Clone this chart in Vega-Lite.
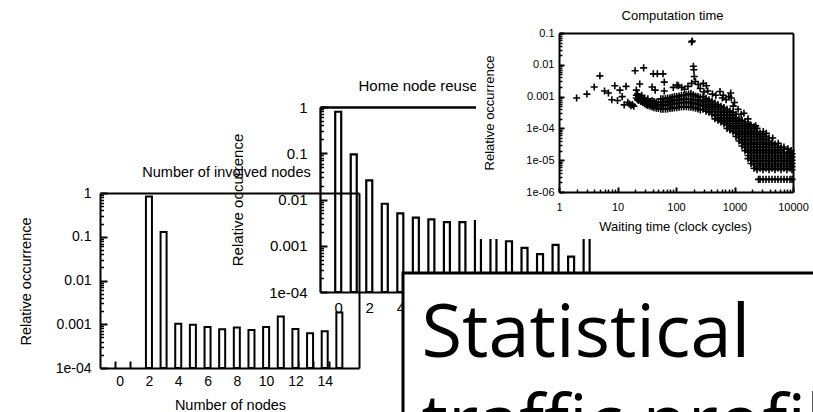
{
  "$schema": "https://vega.github.io/schema/vega-lite/v6.json",
  "width": 813,
  "height": 412,
  "autosize": "none",
  "padding": 0,
  "background": "white",
  "config": {
    "view": {"stroke": null},
    "font": "Liberation Sans",
    "axis": {
      "grid": false,
      "domainColor": "black",
      "domainWidth": 2,
      "tickColor": "black",
      "tickWidth": 2,
      "labelColor": "black",
      "titleColor": "black",
      "labelFont": "Liberation Sans",
      "titleFont": "Liberation Sans",
      "titleFontWeight": "normal",
      "labelFlush": false,
      "labelOverlap": false,
      "titleBaseline": "middle"
    }
  },
  "datasets": {
    "nodes": [
      {"n": 2, "p": 0.83}, {"n": 3, "p": 0.128}, {"n": 4, "p": 0.00103}, {"n": 5, "p": 0.00098},
      {"n": 6, "p": 0.00086}, {"n": 7, "p": 0.00077}, {"n": 8, "p": 0.00084}, {"n": 9, "p": 0.00074},
      {"n": 10, "p": 0.00086}, {"n": 11, "p": 0.0015}, {"n": 12, "p": 0.00078}, {"n": 13, "p": 0.00062},
      {"n": 14, "p": 0.00069}, {"n": 15, "p": 0.00185}
    ],
    "reuse": [
      {"n": 0, "p": 0.79}, {"n": 1, "p": 0.095}, {"n": 2, "p": 0.026}, {"n": 3, "p": 0.0081},
      {"n": 4, "p": 0.005}, {"n": 5, "p": 0.00405}, {"n": 6, "p": 0.0037}, {"n": 7, "p": 0.00325},
      {"n": 8, "p": 0.00325}, {"n": 9, "p": 0.0034}, {"n": 10, "p": 0.0022}, {"n": 11, "p": 0.00125},
      {"n": 12, "p": 0.0009}, {"n": 13, "p": 0.00066}, {"n": 14, "p": 0.00104}, {"n": 15, "p": 0.00058},
      {"n": 16, "p": 0.0016}
    ],
    "compute": [
      {"w": 2, "p": 9e-4}, {"w": 3, "p": 1.2e-3}, {"w": 4, "p": 2e-3}, {"w": 5, "p": 4.5e-3},
      {"w": 6, "p": 1.5e-3}, {"w": 7, "p": 1.3e-3}, {"w": 8, "p": 8e-4}, {"w": 9, "p": 2.2e-3},
      {"w": 10, "p": 7.5e-4}, {"w": 11, "p": 1.6e-3}, {"w": 12, "p": 1e-3}, {"w": 13, "p": 5.5e-4},
      {"w": 14, "p": 2.1e-3}, {"w": 15, "p": 6.6e-4}, {"w": 16, "p": 5.8e-4}, {"w": 17, "p": 5.2e-4},
      {"w": 18, "p": 5.6e-4}, {"w": 19, "p": 5e-4}, {"w": 20, "p": 6.5e-3}, {"w": 21, "p": 1.6e-3},
      {"w": 24, "p": 2.5e-3}, {"w": 28, "p": 8e-3}, {"w": 26, "p": 1.1e-3}, {"w": 29, "p": 8.5e-4},
      {"w": 41, "p": 5.2e-3}, {"w": 48, "p": 5.2e-3}, {"w": 60, "p": 5.2e-3}, {"w": 39, "p": 2e-3},
      {"w": 44, "p": 1.6e-3}, {"w": 63, "p": 2.85e-3}, {"w": 63, "p": 1.5e-3}, {"w": 90, "p": 1.95e-3},
      {"w": 104, "p": 2.3e-3}, {"w": 110, "p": 2.2e-3}, {"w": 125, "p": 1.95e-3}, {"w": 140, "p": 1.7e-3},
      {"w": 160, "p": 2.1e-3}, {"w": 185, "p": 0.052}, {"w": 190, "p": 0.056}, {"w": 198, "p": 9e-3},
      {"w": 202, "p": 7e-3}, {"w": 205, "p": 4.3e-3}, {"w": 185, "p": 2.6e-3}, {"w": 215, "p": 3e-3},
      {"w": 240, "p": 2.4e-3}, {"w": 293, "p": 2.6e-3}, {"w": 330, "p": 2.2e-3}, {"w": 260, "p": 1.8e-3},
      {"w": 300, "p": 1.4e-3}, {"w": 350, "p": 1.5e-3}, {"w": 420, "p": 1.2e-3}, {"w": 480, "p": 1.1e-3},
      {"w": 565, "p": 1.45e-3}, {"w": 620, "p": 9e-4}, {"w": 645, "p": 1.1e-3}, {"w": 720, "p": 8e-4},
      {"w": 800, "p": 1e-3}, {"w": 860, "p": 1.3e-3}, {"w": 880, "p": 9e-4}, {"w": 950, "p": 5e-4},
      {"w": 1000, "p": 6.5e-4}, {"w": 1150, "p": 4e-4}, {"w": 1300, "p": 2.8e-4}, {"w": 1450, "p": 3e-4},
      {"w": 1700, "p": 2e-4}, {"w": 1840, "p": 1.3e-4}, {"w": 2300, "p": 1.2e-4}, {"w": 3100, "p": 8e-5},
      {"w": 3500, "p": 7e-5}, {"w": 4500, "p": 5e-5}, {"w": 5600, "p": 3.4e-5}, {"w": 7000, "p": 2.6e-5},
      {"w": 8200, "p": 2.3e-5}, {"w": 9300, "p": 2e-5}, {"w": 2570, "p": 2.5e-6},

      {"w": 21, "p": 1.1e-3}, {"w": 21, "p": 9e-4},
      {"w": 22, "p": 1.2e-3}, {"w": 22, "p": 8e-4},
      {"w": 23, "p": 1e-3}, {"w": 23, "p": 7.5e-4},
      {"w": 25, "p": 9.5e-4}, {"w": 25, "p": 7e-4},
      {"w": 27, "p": 8.5e-4}, {"w": 27, "p": 6.5e-4},
      {"w": 29, "p": 8e-4}, {"w": 29, "p": 6e-4},
      {"w": 31, "p": 7.5e-4}, {"w": 31, "p": 5.6e-4},
      {"w": 33, "p": 7e-4}, {"w": 33, "p": 5.3e-4}, {"w": 33, "p": 8.5e-4},
      {"w": 36, "p": 6.5e-4}, {"w": 36, "p": 5e-4},
      {"w": 39, "p": 6e-4}, {"w": 39, "p": 4.7e-4}, {"w": 39, "p": 7.5e-4},
      {"w": 42, "p": 5.8e-4}, {"w": 42, "p": 4.5e-4}, {"w": 42, "p": 7e-4},
      {"w": 46, "p": 5.5e-4}, {"w": 46, "p": 4.3e-4}, {"w": 46, "p": 6.8e-4},
      {"w": 50, "p": 5.3e-4}, {"w": 50, "p": 4.2e-4}, {"w": 50, "p": 6.8e-4},
      {"w": 55, "p": 5.2e-4}, {"w": 55, "p": 4e-4}, {"w": 55, "p": 6.6e-4}, {"w": 55, "p": 8.5e-4},
      {"w": 60, "p": 5.3e-4}, {"w": 60, "p": 4e-4}, {"w": 60, "p": 6.6e-4}, {"w": 60, "p": 8.5e-4},
      {"w": 66, "p": 5.4e-4}, {"w": 66, "p": 4e-4}, {"w": 66, "p": 6.8e-4}, {"w": 66, "p": 8.7e-4},
      {"w": 72, "p": 5.5e-4}, {"w": 72, "p": 4.1e-4}, {"w": 72, "p": 7e-4}, {"w": 72, "p": 9e-4},
      {"w": 79, "p": 5.7e-4}, {"w": 79, "p": 4.2e-4}, {"w": 79, "p": 7.2e-4}, {"w": 79, "p": 9.2e-4},
      {"w": 86, "p": 5.9e-4}, {"w": 86, "p": 4.3e-4}, {"w": 86, "p": 7.5e-4}, {"w": 86, "p": 9.5e-4},
      {"w": 94, "p": 6e-4}, {"w": 94, "p": 4.4e-4}, {"w": 94, "p": 7.7e-4}, {"w": 94, "p": 1e-3},
      {"w": 103, "p": 6.2e-4}, {"w": 103, "p": 4.5e-4}, {"w": 103, "p": 8e-4}, {"w": 103, "p": 1e-3},
      {"w": 113, "p": 6.3e-4}, {"w": 113, "p": 4.6e-4}, {"w": 113, "p": 8e-4}, {"w": 113, "p": 1.05e-3},
      {"w": 124, "p": 6.4e-4}, {"w": 124, "p": 4.7e-4}, {"w": 124, "p": 8.2e-4}, {"w": 124, "p": 1.1e-3},
      {"w": 136, "p": 6.5e-4}, {"w": 136, "p": 4.8e-4}, {"w": 136, "p": 8.3e-4}, {"w": 136, "p": 1.1e-3},
      {"w": 150, "p": 6.6e-4}, {"w": 150, "p": 4.8e-4}, {"w": 150, "p": 8.5e-4}, {"w": 150, "p": 1.15e-3},
      {"w": 164, "p": 6.5e-4}, {"w": 164, "p": 4.7e-4}, {"w": 164, "p": 8.5e-4}, {"w": 164, "p": 1.2e-3},
      {"w": 180, "p": 6.4e-4}, {"w": 180, "p": 4.6e-4}, {"w": 180, "p": 8.3e-4}, {"w": 180, "p": 1.25e-3},
      {"w": 197, "p": 6.2e-4}, {"w": 197, "p": 4.5e-4}, {"w": 197, "p": 8e-4}, {"w": 197, "p": 1.15e-3},
      {"w": 216, "p": 6e-4}, {"w": 216, "p": 4.3e-4}, {"w": 216, "p": 7.8e-4}, {"w": 216, "p": 1.05e-3},
      {"w": 237, "p": 5.7e-4}, {"w": 237, "p": 4.1e-4}, {"w": 237, "p": 7.5e-4}, {"w": 237, "p": 1e-3},
      {"w": 260, "p": 5.4e-4}, {"w": 260, "p": 3.8e-4}, {"w": 260, "p": 7.2e-4}, {"w": 260, "p": 9.5e-4},

      {"w": 290, "p": 1e-3}, {"w": 290, "p": 7.9e-4}, {"w": 290, "p": 6.3e-4}, {"w": 290, "p": 5e-4}, {"w": 290, "p": 4e-4},
      {"w": 326, "p": 8.9e-4}, {"w": 326, "p": 7.1e-4}, {"w": 326, "p": 5.6e-4}, {"w": 326, "p": 4.5e-4}, {"w": 326, "p": 3.5e-4},
      {"w": 366, "p": 7.9e-4}, {"w": 366, "p": 6.3e-4}, {"w": 366, "p": 5e-4}, {"w": 366, "p": 4e-4}, {"w": 366, "p": 3.2e-4},
      {"w": 412, "p": 7.1e-4}, {"w": 412, "p": 5.6e-4}, {"w": 412, "p": 4.5e-4}, {"w": 412, "p": 3.5e-4}, {"w": 412, "p": 2.8e-4},
      {"w": 464, "p": 6.3e-4}, {"w": 464, "p": 5e-4}, {"w": 464, "p": 4e-4}, {"w": 464, "p": 3.2e-4}, {"w": 464, "p": 2.5e-4}, {"w": 464, "p": 2e-4},
      {"w": 522, "p": 5.6e-4}, {"w": 522, "p": 4.5e-4}, {"w": 522, "p": 3.5e-4}, {"w": 522, "p": 2.8e-4}, {"w": 522, "p": 2.2e-4}, {"w": 522, "p": 1.8e-4},
      {"w": 588, "p": 5e-4}, {"w": 588, "p": 4e-4}, {"w": 588, "p": 3.2e-4}, {"w": 588, "p": 2.5e-4}, {"w": 588, "p": 2e-4}, {"w": 588, "p": 1.6e-4},
      {"w": 662, "p": 4.5e-4}, {"w": 662, "p": 3.5e-4}, {"w": 662, "p": 2.8e-4}, {"w": 662, "p": 2.2e-4}, {"w": 662, "p": 1.8e-4}, {"w": 662, "p": 1.4e-4},
      {"w": 745, "p": 4e-4}, {"w": 745, "p": 3.2e-4}, {"w": 745, "p": 2.5e-4}, {"w": 745, "p": 2e-4}, {"w": 745, "p": 1.6e-4}, {"w": 745, "p": 1.26e-4}, {"w": 745, "p": 1e-4},
      {"w": 838, "p": 3.5e-4}, {"w": 838, "p": 2.8e-4}, {"w": 838, "p": 2.2e-4}, {"w": 838, "p": 1.8e-4}, {"w": 838, "p": 1.4e-4}, {"w": 838, "p": 1.12e-4}, {"w": 838, "p": 8.9e-5},
      {"w": 943, "p": 3.2e-4}, {"w": 943, "p": 2.5e-4}, {"w": 943, "p": 2e-4}, {"w": 943, "p": 1.6e-4}, {"w": 943, "p": 1.26e-4}, {"w": 943, "p": 1e-4}, {"w": 943, "p": 7.9e-5},
      {"w": 1061, "p": 2.8e-4}, {"w": 1061, "p": 2.2e-4}, {"w": 1061, "p": 1.8e-4}, {"w": 1061, "p": 1.4e-4}, {"w": 1061, "p": 1.12e-4}, {"w": 1061, "p": 8.9e-5}, {"w": 1061, "p": 7.1e-5}, {"w": 1061, "p": 5.6e-5},
      {"w": 1194, "p": 2e-4}, {"w": 1194, "p": 1.6e-4}, {"w": 1194, "p": 1.26e-4}, {"w": 1194, "p": 1e-4}, {"w": 1194, "p": 7.9e-5}, {"w": 1194, "p": 6.3e-5}, {"w": 1194, "p": 5e-5}, {"w": 1194, "p": 4e-5},
      {"w": 1344, "p": 1.8e-4}, {"w": 1344, "p": 1.4e-4}, {"w": 1344, "p": 1.12e-4}, {"w": 1344, "p": 8.9e-5}, {"w": 1344, "p": 7.1e-5}, {"w": 1344, "p": 5.6e-5}, {"w": 1344, "p": 4.5e-5}, {"w": 1344, "p": 3.5e-5}, {"w": 1344, "p": 2.8e-5},
      {"w": 1512, "p": 1.6e-4}, {"w": 1512, "p": 1.26e-4}, {"w": 1512, "p": 1e-4}, {"w": 1512, "p": 7.9e-5}, {"w": 1512, "p": 6.3e-5}, {"w": 1512, "p": 5e-5}, {"w": 1512, "p": 4e-5}, {"w": 1512, "p": 3.2e-5}, {"w": 1512, "p": 2.5e-5}, {"w": 1512, "p": 2e-5},
      {"w": 1702, "p": 1.4e-4}, {"w": 1702, "p": 1.12e-4}, {"w": 1702, "p": 8.9e-5}, {"w": 1702, "p": 7.1e-5}, {"w": 1702, "p": 5.6e-5}, {"w": 1702, "p": 4.5e-5}, {"w": 1702, "p": 3.5e-5}, {"w": 1702, "p": 2.8e-5}, {"w": 1702, "p": 2.2e-5}, {"w": 1702, "p": 1.8e-5}, {"w": 1702, "p": 1.4e-5}, {"w": 1702, "p": 1.12e-5},
      {"w": 1915, "p": 1.26e-4}, {"w": 1915, "p": 1e-4}, {"w": 1915, "p": 7.9e-5}, {"w": 1915, "p": 6.3e-5}, {"w": 1915, "p": 5e-5}, {"w": 1915, "p": 4e-5}, {"w": 1915, "p": 3.2e-5}, {"w": 1915, "p": 2.5e-5}, {"w": 1915, "p": 2e-5}, {"w": 1915, "p": 1.6e-5}, {"w": 1915, "p": 1.26e-5}, {"w": 1915, "p": 1e-5}, {"w": 1915, "p": 7.9e-6},
      {"w": 2155, "p": 1.12e-4}, {"w": 2155, "p": 8.9e-5}, {"w": 2155, "p": 7.1e-5}, {"w": 2155, "p": 5.6e-5}, {"w": 2155, "p": 4.5e-5}, {"w": 2155, "p": 3.5e-5}, {"w": 2155, "p": 2.8e-5}, {"w": 2155, "p": 2.2e-5}, {"w": 2155, "p": 1.8e-5}, {"w": 2155, "p": 1.4e-5}, {"w": 2155, "p": 1.12e-5}, {"w": 2155, "p": 8.9e-6}, {"w": 2155, "p": 7.1e-6}, {"w": 2155, "p": 5.6e-6},
      {"w": 2426, "p": 1e-4}, {"w": 2426, "p": 7.9e-5}, {"w": 2426, "p": 6.3e-5}, {"w": 2426, "p": 5e-5}, {"w": 2426, "p": 4e-5}, {"w": 2426, "p": 3.2e-5}, {"w": 2426, "p": 2.5e-5}, {"w": 2426, "p": 2e-5}, {"w": 2426, "p": 1.6e-5}, {"w": 2426, "p": 1.26e-5}, {"w": 2426, "p": 1e-5}, {"w": 2426, "p": 7.9e-6}, {"w": 2426, "p": 6.3e-6}, {"w": 2426, "p": 5e-6},
      {"w": 2730, "p": 7.1e-5}, {"w": 2730, "p": 5.6e-5}, {"w": 2730, "p": 4.5e-5}, {"w": 2730, "p": 3.5e-5}, {"w": 2730, "p": 2.8e-5}, {"w": 2730, "p": 2.2e-5}, {"w": 2730, "p": 1.8e-5}, {"w": 2730, "p": 1.4e-5}, {"w": 2730, "p": 1.12e-5}, {"w": 2730, "p": 8.9e-6}, {"w": 2730, "p": 7.1e-6}, {"w": 2730, "p": 5.6e-6}, {"w": 2730, "p": 2.5e-6},
      {"w": 3072, "p": 6.3e-5}, {"w": 3072, "p": 5e-5}, {"w": 3072, "p": 4e-5}, {"w": 3072, "p": 3.2e-5}, {"w": 3072, "p": 2.5e-5}, {"w": 3072, "p": 2e-5}, {"w": 3072, "p": 1.6e-5}, {"w": 3072, "p": 1.26e-5}, {"w": 3072, "p": 1e-5}, {"w": 3072, "p": 7.9e-6}, {"w": 3072, "p": 6.3e-6}, {"w": 3072, "p": 5e-6}, {"w": 3072, "p": 2.5e-6},
      {"w": 3457, "p": 5.6e-5}, {"w": 3457, "p": 4.5e-5}, {"w": 3457, "p": 3.5e-5}, {"w": 3457, "p": 2.8e-5}, {"w": 3457, "p": 2.2e-5}, {"w": 3457, "p": 1.8e-5}, {"w": 3457, "p": 1.4e-5}, {"w": 3457, "p": 1.12e-5}, {"w": 3457, "p": 8.9e-6}, {"w": 3457, "p": 7.1e-6}, {"w": 3457, "p": 5.6e-6}, {"w": 3457, "p": 2.5e-6},
      {"w": 3890, "p": 5e-5}, {"w": 3890, "p": 4e-5}, {"w": 3890, "p": 3.2e-5}, {"w": 3890, "p": 2.5e-5}, {"w": 3890, "p": 2e-5}, {"w": 3890, "p": 1.6e-5}, {"w": 3890, "p": 1.26e-5}, {"w": 3890, "p": 1e-5}, {"w": 3890, "p": 7.9e-6}, {"w": 3890, "p": 6.3e-6}, {"w": 3890, "p": 5e-6}, {"w": 3890, "p": 2.5e-6},
      {"w": 4378, "p": 3.5e-5}, {"w": 4378, "p": 2.8e-5}, {"w": 4378, "p": 2.2e-5}, {"w": 4378, "p": 1.8e-5}, {"w": 4378, "p": 1.4e-5}, {"w": 4378, "p": 1.12e-5}, {"w": 4378, "p": 8.9e-6}, {"w": 4378, "p": 7.1e-6}, {"w": 4378, "p": 5.6e-6}, {"w": 4378, "p": 2.5e-6},
      {"w": 4926, "p": 3.2e-5}, {"w": 4926, "p": 2.5e-5}, {"w": 4926, "p": 2e-5}, {"w": 4926, "p": 1.6e-5}, {"w": 4926, "p": 1.26e-5}, {"w": 4926, "p": 1e-5}, {"w": 4926, "p": 7.9e-6}, {"w": 4926, "p": 6.3e-6}, {"w": 4926, "p": 5e-6}, {"w": 4926, "p": 2.5e-6},
      {"w": 5544, "p": 2.8e-5}, {"w": 5544, "p": 2.2e-5}, {"w": 5544, "p": 1.8e-5}, {"w": 5544, "p": 1.4e-5}, {"w": 5544, "p": 1.12e-5}, {"w": 5544, "p": 8.9e-6}, {"w": 5544, "p": 7.1e-6}, {"w": 5544, "p": 5.6e-6}, {"w": 5544, "p": 2.5e-6},
      {"w": 6238, "p": 2.5e-5}, {"w": 6238, "p": 2e-5}, {"w": 6238, "p": 1.6e-5}, {"w": 6238, "p": 1.26e-5}, {"w": 6238, "p": 1e-5}, {"w": 6238, "p": 7.9e-6}, {"w": 6238, "p": 6.3e-6}, {"w": 6238, "p": 5e-6}, {"w": 6238, "p": 2.5e-6},
      {"w": 7020, "p": 2.2e-5}, {"w": 7020, "p": 1.8e-5}, {"w": 7020, "p": 1.4e-5}, {"w": 7020, "p": 1.12e-5}, {"w": 7020, "p": 8.9e-6}, {"w": 7020, "p": 7.1e-6}, {"w": 7020, "p": 5.6e-6}, {"w": 7020, "p": 2.5e-6},
      {"w": 7900, "p": 1.6e-5}, {"w": 7900, "p": 1.26e-5}, {"w": 7900, "p": 1e-5}, {"w": 7900, "p": 7.9e-6}, {"w": 7900, "p": 6.3e-6}, {"w": 7900, "p": 5e-6}, {"w": 7900, "p": 2.5e-6},
      {"w": 8890, "p": 1.8e-5}, {"w": 8890, "p": 1.4e-5}, {"w": 8890, "p": 1.12e-5}, {"w": 8890, "p": 8.9e-6}, {"w": 8890, "p": 7.1e-6}, {"w": 8890, "p": 5.6e-6}, {"w": 8890, "p": 2.5e-6},
      {"w": 9620, "p": 1.6e-5}, {"w": 9620, "p": 1.26e-5}, {"w": 9620, "p": 1e-5}, {"w": 9620, "p": 7.9e-6}, {"w": 9620, "p": 6.3e-6}, {"w": 9620, "p": 5e-6}, {"w": 9620, "p": 2.5e-6}
    ]
  },
  "resolve": {
    "scale": {"x": "independent", "y": "independent"},
    "axis": {"x": "independent", "y": "independent"}
  },
  "layer": [
    {
      "data": {"name": "nodes"},
      "mark": {"type": "bar", "width": 6, "fill": "white", "stroke": "black", "strokeWidth": 2},
      "encoding": {
        "x": {
          "field": "n", "type": "quantitative",
          "scale": {"domain": [-1, 16], "range": [100, 359], "nice": false, "zero": false},
          "axis": {
            "orient": "bottom", "offset": -44, "ticks": false, "tickSize": 0,
            "values": [0, 2, 4, 6, 8, 10, 12, 14],
            "labelPadding": 6, "labelFontSize": 14,
            "title": "Number of nodes", "titleFontSize": 14.5, "titleX": 230, "titleY": 37
          }
        },
        "y": {
          "field": "p", "type": "quantitative",
          "scale": {"type": "log", "domain": [0.0001, 1], "range": [368, 193], "nice": false},
          "axis": {
            "orient": "left", "offset": -100, "ticks": false, "tickSize": 0,
            "values": [1, 0.1, 0.01, 0.001, 0.0001],
            "labelExpr": "datum.value >= 0.001 ? '' + datum.value : '1e-0' + round(-log(datum.value) / LN10)",
            "labelPadding": 9, "labelFontSize": 14,
            "title": "Relative occurrence", "titleFontSize": 14.5, "titleX": -74, "titleY": 281
          }
        },
        "y2": {"datum": 0.0001}
      }
    },
    {
      "data": {"values": []},
      "mark": {"type": "rule"},
      "encoding": {
        "x": {
          "field": "n", "type": "quantitative",
          "scale": {"domain": [-1, 16], "range": [100, 359], "nice": false, "zero": false},
          "axis": {
            "orient": "top", "offset": -193, "labels": false, "ticks": false,
            "title": "Number of involved nodes", "titleFontSize": 14.5, "titleX": 226, "titleY": -21
          }
        },
        "y": {
          "field": "p", "type": "quantitative",
          "scale": {"type": "log", "domain": [0.0001, 1], "range": [368, 193], "nice": false},
          "axis": {"orient": "right", "offset": -454, "labels": false, "ticks": false, "title": null}
        }
      }
    },
    {
      "data": {"values": []},
      "mark": {"type": "rule"},
      "encoding": {
        "x": {
          "field": "n", "type": "quantitative",
          "scale": {"domain": [-1, 16], "range": [100, 359], "nice": false, "zero": false},
          "axis": {
            "orient": "top", "offset": -368, "domain": false, "labels": false, "ticks": true, "tickSize": 7, "title": null,
            "values": [0, 1, 2, 3, 4, 5, 6, 7, 8, 9, 10, 11, 12, 13, 14]
          }
        },
        "y": {
          "field": "p", "type": "quantitative",
          "scale": {"type": "log", "domain": [0.0001, 1], "range": [368, 193], "nice": false},
          "axis": {
            "orient": "right", "offset": -713, "domain": false, "labels": false, "ticks": true, "tickSize": 7, "title": null,
            "values": [1, 0.1, 0.01, 0.001, 0.0001]
          }
        }
      }
    },
    {
      "data": {"values": []},
      "mark": {"type": "rule"},
      "encoding": {
        "y": {
          "field": "p", "type": "quantitative",
          "scale": {"type": "log", "domain": [0.0001, 1], "range": [368, 193], "nice": false},
          "axis": {
            "orient": "right", "offset": -713, "domain": false, "labels": false, "ticks": true, "tickSize": 3.5, "tickWidth": 1.5, "title": null,
            "values": [0.0002, 0.0003, 0.0004, 0.0005, 0.0006, 0.0007, 0.0008, 0.0009,
                       0.002, 0.003, 0.004, 0.005, 0.006, 0.007, 0.008, 0.009,
                       0.02, 0.03, 0.04, 0.05, 0.06, 0.07, 0.08, 0.09,
                       0.2, 0.3, 0.4, 0.5, 0.6, 0.7, 0.8, 0.9]
          }
        }
      }
    },
    {
      "data": {"name": "reuse"},
      "mark": {"type": "bar", "width": 6, "fillOpacity": 0, "stroke": "black", "strokeWidth": 2.2},
      "encoding": {
        "x": {
          "field": "n", "type": "quantitative",
          "scale": {"domain": [-0.851, 16.54], "range": [320, 600], "nice": false, "zero": false},
          "axis": {
            "orient": "bottom", "offset": -120, "ticks": false, "tickSize": 0,
            "values": [0, 2, 4],
            "labelPadding": 8, "labelFontSize": 15, "title": null
          }
        },
        "y": {
          "field": "p", "type": "quantitative",
          "scale": {"type": "log", "domain": [0.0001, 1], "range": [292, 107], "nice": false},
          "axis": {
            "orient": "left", "offset": -320, "ticks": false, "tickSize": 0,
            "values": [1, 0.1, 0.01, 0.001, 0.0001],
            "labelExpr": "datum.value >= 0.001 ? '' + datum.value : '1e-0' + round(-log(datum.value) / LN10)",
            "labelPadding": 13, "labelFontSize": 15, "domainWidth": 2.3,
            "title": "Relative occurrence", "titleFontSize": 15, "titleX": -83, "titleY": 199.5
          }
        },
        "y2": {"datum": 0.0001}
      }
    },
    {
      "data": {"values": []},
      "mark": {"type": "rule"},
      "encoding": {
        "x": {
          "field": "n", "type": "quantitative",
          "scale": {"domain": [-0.851, 16.54], "range": [320, 600], "nice": false, "zero": false},
          "axis": {
            "orient": "top", "offset": -107, "labels": false, "ticks": false, "domainWidth": 2.3,
            "title": "Home node reuse", "titleFontSize": 15, "titleAlign": "left", "titleX": 358, "titleY": -22
          }
        },
        "y": {
          "field": "p", "type": "quantitative",
          "scale": {"type": "log", "domain": [0.0001, 1], "range": [292, 107], "nice": false},
          "axis": {
            "orient": "right", "offset": -493, "domain": false, "labels": false, "ticks": true, "tickSize": 7, "title": null,
            "values": [1, 0.1, 0.01, 0.001, 0.0001]
          }
        }
      }
    },
    {
      "data": {"values": []},
      "mark": {"type": "rule"},
      "encoding": {
        "y": {
          "field": "p", "type": "quantitative",
          "scale": {"type": "log", "domain": [0.0001, 1], "range": [292, 107], "nice": false},
          "axis": {
            "orient": "right", "offset": -493, "domain": false, "labels": false, "ticks": true, "tickSize": 3.5, "tickWidth": 1.5, "title": null,
            "values": [0.0002, 0.0003, 0.0004, 0.0005, 0.0006, 0.0007, 0.0008, 0.0009,
                       0.002, 0.003, 0.004, 0.005, 0.006, 0.007, 0.008, 0.009,
                       0.02, 0.03, 0.04, 0.05, 0.06, 0.07, 0.08, 0.09,
                       0.2, 0.3, 0.4, 0.5, 0.6, 0.7, 0.8, 0.9]
          }
        }
      }
    },
    {
      "data": {"values": [{"part": "panel"}]},
      "mark": {"type": "rect", "fill": "white", "strokeWidth": 0},
      "encoding": {
        "x": {"datum": 58.55, "type": "quantitative", "scale": {"domain": [0, 100], "range": [0, 813], "nice": false, "zero": false}, "axis": null},
        "x2": {"datum": 101},
        "y": {"datum": -1, "type": "quantitative", "scale": {"domain": [0, 100], "range": [0, 412], "nice": false, "zero": false}, "axis": null},
        "y2": {"datum": 58.0}
      }
    },
    {
      "data": {"name": "compute"},
      "mark": {"type": "point", "shape": "M-1,0H1M0,-1V1", "size": 50, "filled": false, "stroke": "black", "strokeWidth": 1.6, "opacity": 1},
      "encoding": {
        "x": {
          "field": "w", "type": "quantitative",
          "scale": {"type": "log", "domain": [1, 10000], "range": [559, 793], "nice": false},
          "axis": {
            "orient": "bottom", "offset": -220, "zindex": 1, "ticks": false, "tickSize": 0,
            "values": [1, 10, 100, 1000, 10000], "format": "d",
            "labelPadding": 9, "labelFontSize": 11,
            "title": "Waiting time (clock cycles)", "titleFontSize": 13, "titleX": 675, "titleY": 34.5
          }
        },
        "y": {
          "field": "p", "type": "quantitative",
          "scale": {"type": "log", "domain": [0.000001, 0.1], "range": [192, 33], "nice": false},
          "axis": {
            "orient": "left", "offset": -559, "zindex": 1, "ticks": false, "tickSize": 0,
            "values": [0.1, 0.01, 0.001, 0.0001, 0.00001, 0.000001],
            "labelExpr": "datum.value >= 0.001 ? '' + datum.value : '1e-0' + round(-log(datum.value) / LN10)",
            "labelPadding": 5, "labelFontSize": 11,
            "title": "Relative occurrence", "titleFontSize": 13, "titleX": -70, "titleY": 112.5
          }
        }
      }
    },
    {
      "data": {"values": []},
      "mark": {"type": "rule"},
      "encoding": {
        "x": {
          "field": "w", "type": "quantitative",
          "scale": {"type": "log", "domain": [1, 10000], "range": [559, 793], "nice": false},
          "axis": {
            "orient": "top", "offset": -33, "zindex": 1, "labels": false, "ticks": false,
            "title": "Computation time", "titleFontSize": 13, "titleX": 672, "titleY": -18
          }
        },
        "y": {
          "field": "p", "type": "quantitative",
          "scale": {"type": "log", "domain": [0.000001, 0.1], "range": [192, 33], "nice": false},
          "axis": {"orient": "right", "offset": -20, "zindex": 1, "labels": false, "ticks": false, "title": null}
        }
      }
    },
    {
      "data": {"values": []},
      "mark": {"type": "rule"},
      "encoding": {
        "x": {
          "field": "w", "type": "quantitative",
          "scale": {"type": "log", "domain": [1, 10000], "range": [559, 793], "nice": false},
          "axis": {
            "orient": "top", "offset": -192, "zindex": 1, "domain": false, "labels": false, "ticks": true, "tickSize": 5, "title": null,
            "values": [1, 10, 100, 1000, 10000]
          }
        },
        "y": {
          "field": "p", "type": "quantitative",
          "scale": {"type": "log", "domain": [0.000001, 0.1], "range": [192, 33], "nice": false},
          "axis": {
            "orient": "right", "offset": -254, "zindex": 1, "domain": false, "labels": false, "ticks": true, "tickSize": 5, "title": null,
            "values": [0.1, 0.01, 0.001, 0.0001, 0.00001, 0.000001]
          }
        }
      }
    },
    {
      "data": {"values": []},
      "mark": {"type": "rule"},
      "encoding": {
        "x": {
          "field": "w", "type": "quantitative",
          "scale": {"type": "log", "domain": [1, 10000], "range": [559, 793], "nice": false},
          "axis": {
            "orient": "top", "offset": -192, "zindex": 1, "domain": false, "labels": false, "ticks": true, "tickSize": 3, "tickWidth": 1.5, "title": null,
            "values": [2, 3, 4, 5, 6, 7, 8, 9, 20, 30, 40, 50, 60, 70, 80, 90,
                       200, 300, 400, 500, 600, 700, 800, 900, 2000, 3000, 4000, 5000, 6000, 7000, 8000, 9000]
          }
        },
        "y": {
          "field": "p", "type": "quantitative",
          "scale": {"type": "log", "domain": [0.000001, 0.1], "range": [192, 33], "nice": false},
          "axis": {
            "orient": "right", "offset": -254, "zindex": 1, "domain": false, "labels": false, "ticks": true, "tickSize": 3, "tickWidth": 1.5, "title": null,
            "values": [0.000002, 0.000003, 0.000004, 0.000005, 0.000006, 0.000007, 0.000008, 0.000009,
                       0.00002, 0.00003, 0.00004, 0.00005, 0.00006, 0.00007, 0.00008, 0.00009,
                       0.0002, 0.0003, 0.0004, 0.0005, 0.0006, 0.0007, 0.0008, 0.0009,
                       0.002, 0.003, 0.004, 0.005, 0.006, 0.007, 0.008, 0.009,
                       0.02, 0.03, 0.04, 0.05, 0.06, 0.07, 0.08, 0.09]
          }
        }
      }
    },
    {
      "data": {"values": [{"part": "box"}]},
      "mark": {"type": "rect", "fill": "white", "stroke": "black", "strokeWidth": 3},
      "encoding": {
        "x": {"datum": 49.57, "type": "quantitative", "scale": {"domain": [0, 100], "range": [0, 813], "nice": false, "zero": false}, "axis": null},
        "x2": {"datum": 110},
        "y": {"datum": 66.26, "type": "quantitative", "scale": {"domain": [0, 100], "range": [0, 412], "nice": false, "zero": false}, "axis": null},
        "y2": {"datum": 110}
      }
    },
    {
      "data": {"values": [{"caption": "Statistical\ntraffic profile"}]},
      "mark": {"type": "text", "align": "left", "baseline": "alphabetic", "font": "Open Sans", "fontSize": 74, "lineHeight": 90, "lineBreak": "\n", "fill": "black"},
      "encoding": {
        "x": {"datum": 51.85, "type": "quantitative", "scale": {"domain": [0, 100], "range": [0, 813], "nice": false, "zero": false}, "axis": null},
        "y": {"datum": 86.65, "type": "quantitative", "scale": {"domain": [0, 100], "range": [0, 412], "nice": false, "zero": false}, "axis": null},
        "text": {"field": "caption"}
      }
    }
  ]
}
